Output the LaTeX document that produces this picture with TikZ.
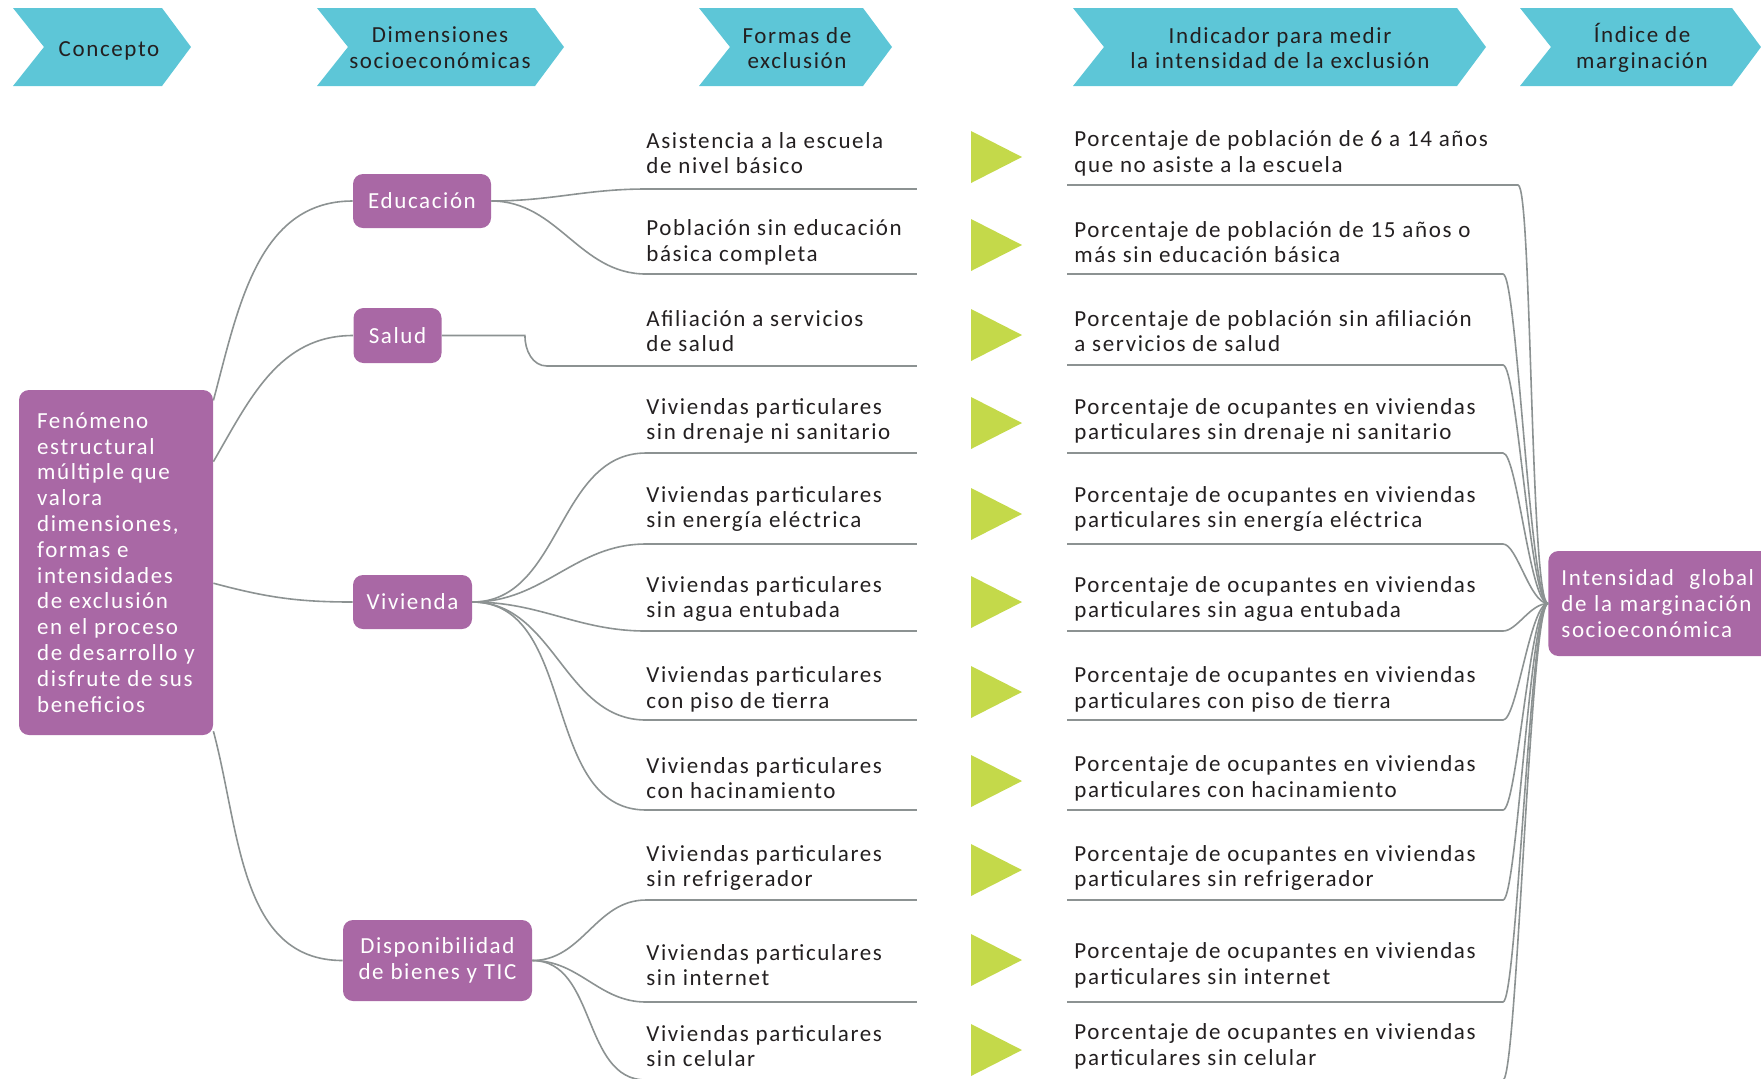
\documentclass[tikz,border=0pt]{standalone}
\usepackage{fontspec}
\setmainfont{Carlito}
\newfontfamily\rowfont{Carlito}[LetterSpace=7]
\newcommand\rowtxt{\rowfont\fontsize{11.5}{12.9}\selectfont}
\definecolor{headblue}{RGB}{93,198,215}
\definecolor{boxpurple}{RGB}{169,104,165}
\definecolor{trigreen}{RGB}{196,217,74}
\definecolor{linegray}{RGB}{140,146,146}
\definecolor{inkgray}{RGB}{35,31,32}
\begin{document}
\begin{tikzpicture}[x=0.5pt,y=-0.5pt,
  conn/.style={draw=linegray,line width=0.8pt},
  head/.style={fill=headblue},
  headtext/.style={align=center,inner sep=0pt,text=inkgray,font=\rowtxt},
  dimbox/.style={fill=boxpurple,rounded corners=5pt,text=white,font=\rowtxt,align=center,inner sep=0pt},
  rowtext/.style={anchor=west,align=left,inner sep=0pt,text=inkgray,font=\rowtxt},
  tri/.style={fill=trigreen}]
\useasboundingbox (0,0) rectangle (1761,1078);
\clip (0,0) rectangle (1761,1078);
% column heads
\foreach \l/\r/\cx/\cy/\nm/\txt in {13/191/109/51/hconc/Concepto,
  317/564/440/48/hdim/{Dimensiones\\socioeconómicas},
  699/892/797/48/hform/{Formas de\\exclusión},
  1073/1486/1280/48/hind/{Indicador para medir\\la intensidad de la exclusión},
  1520/1761/1642/48/hidx/{Índice de\\marginación}}
{
  \path[head] (\l,8) -- (\r-29,8) -- (\r,47) -- (\r-29,86) -- (\l,86) -- (\l+31,47) -- cycle;
  \node[headtext] (\nm) at (\cx,\cy) {\txt};
}
% concept and dimensions
\node[dimbox,align=left,minimum width=97pt,minimum height=172.5pt] (con) at (116,562.5)
  {Fenómeno\\estructural\\múltiple que\\valora\\dimensiones,\\formas e\\intensidades\\de exclusión\\en el proceso\\de desarrollo y\\disfrute de sus\\beneficios};
\node[dimbox,minimum width=69pt,minimum height=27pt] (edu) at (422,201) {Educación};
\node[dimbox,minimum width=44pt,minimum height=27.5pt] (sal) at (397.5,335.5) {Salud};
\node[dimbox,minimum width=59.5pt,minimum height=27pt] (viv) at (412.5,602) {Vivienda};
\node[dimbox,minimum width=94.5pt,minimum height=40.5pt] (dis) at (437.5,960.5) {Disponibilidad\\de bienes y TIC};
\node[dimbox,anchor=west,align=left,inner xsep=6.5pt,text width=110pt,minimum height=52.5pt] (glob) at (1548,603.5)
  {Intensidad \ global\\de la marginación\\socioeconómica};
\path[conn] (con.59) to[out=75,in=180] (edu.west);
\path[conn] (con.46) to[out=60,in=180] (sal.west);
\path[conn] (con.-12) to[out=-15,in=180] (viv.west);
\path[conn] (con.-60) to[out=-75,in=180] (dis.west);
% rows: forms, arrow, indicator
\foreach \i/\u/\t/\g/\fx/\iu/\ix/\ft/\ind in {
  1/189/153/157/646/185/1518/{Asistencia a la escuela\\de nivel básico}/{Porcentaje de población de 6 a 14 años\\que no asiste a la escuela},
  2/274/242/245/646/274/1503/{Población sin educación\\básica completa}/{Porcentaje de población de 15 años o\\más sin educación básica},
  3/366/331/335/547/365/1503/{Afiliación a servicios\\de salud}/{Porcentaje de población sin afiliación\\a servicios de salud},
  4/453/421/423/646/453/1503/{Viviendas particulares\\sin drenaje ni sanitario}/{Porcentaje de ocupantes en viviendas\\particulares sin drenaje ni sanitario},
  5/544/509/514/646/544/1503/{Viviendas particulares\\sin energía eléctrica}/{Porcentaje de ocupantes en viviendas\\particulares sin energía eléctrica},
  6/631/599/602/646/631/1503/{Viviendas particulares\\sin agua entubada}/{Porcentaje de ocupantes en viviendas\\particulares sin agua entubada},
  7/720/689/692/646/720/1503/{Viviendas particulares\\con piso de tierra}/{Porcentaje de ocupantes en viviendas\\particulares con piso de tierra},
  8/810/778/781/646/810/1503/{Viviendas particulares\\con hacinamiento}/{Porcentaje de ocupantes en viviendas\\particulares con hacinamiento},
  9/900/868/870/646/900/1503/{Viviendas particulares\\sin refrigerador}/{Porcentaje de ocupantes en viviendas\\particulares sin refrigerador},
  10/1002/965/960/646/1002/1503/{Viviendas particulares\\sin internet}/{Porcentaje de ocupantes en viviendas\\particulares sin internet},
  11/1080/1046/1050/646/1080/1503/{Viviendas particulares\\sin celular}/{Porcentaje de ocupantes en viviendas\\particulares sin celular}}
{
  \node[rowtext] (form\i) at (646,\t) {\ft};
  \node[rowtext] (ind\i) at (1074,\t) {\ind};
  \path[tri] (971,\g-26) -- (1022,\g) -- (971,\g+26) -- cycle;
  \coordinate (fl\i) at (\fx,\u);
  \coordinate (fr\i) at (917,\u);
  \coordinate (il\i) at (1067,\iu);
  \coordinate (ir\i) at (\ix,\iu);
  \path[conn] (fl\i) -- (fr\i);
  \path[conn] (il\i) -- (ir\i) to[out=0,in=180,out distance=7pt,in distance=9pt] (glob.west);
}
% dimensions to forms
\path[conn] (edu.east) to[out=0,in=180] (fl1);
\path[conn] (edu.east) to[out=0,in=180] (fl2);
\path[conn] (sal.east) -- ++(83,0) to[out=-90,in=180] (fl3);
\foreach \i in {4,...,8}
  \path[conn] (viv.east) to[out=0,in=180] (fl\i);
\foreach \i in {9,10,11}
  \path[conn] (dis.east) to[out=0,in=180] (fl\i);
\end{tikzpicture}
\end{document}
